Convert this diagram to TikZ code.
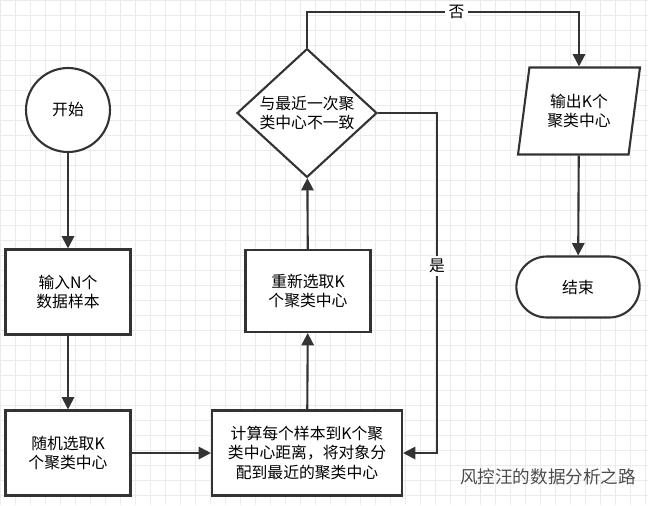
\documentclass[tikz,border=0pt]{standalone}
\usepackage{fontspec}
\setmainfont{Noto Sans CJK SC}
\usetikzlibrary{shapes.geometric, shapes.misc, arrows.meta, positioning}
\tikzset{
    box/.style={draw=black!80, line width=1.2pt, fill=white, minimum width=2.5cm, minimum height=1.7cm, align=center, font=\small},
    flow/.style={draw=black!80, line width=1.2pt, -{Triangle[length=7pt, width=7pt]}},
}
\begin{document}
\begin{tikzpicture}[x=0.02cm, y=-0.02cm]
        \useasboundingbox (0,0) rectangle (648,505);
        \draw[black!8, step=0.3cm] (0,0) grid (648,505);
        \node[box, circle, minimum size=1.68cm] (start) at (68,110) {开始};
        \node[box] (input) at (68,292) {输入N个\\数据样本};
        \node[box] (init) at (68,453) {随机选取K\\个聚类中心};
        \node[box, minimum width=3.8cm] (assign) at (307,453) {计算每个样本到K个聚\\类中心距离，将对象分\\配到最近的聚类中心};
        \node[box, minimum height=1.64cm] (update) at (308,291) {重新选取K\\个聚类中心};
        \node[box, diamond, minimum width=2.8cm, minimum height=2.46cm, inner sep=0pt] (check) at (307,113) {与最近一次聚\\类中心不一致};
        \node[box, trapezium, trapezium left angle=76, trapezium right angle=104, trapezium stretches body, minimum width=2.44cm, minimum height=1.74cm, inner xsep=0pt] (output) at (579,111) {输出K个\\聚类中心};
        \node[box, rounded rectangle, minimum width=2.7cm, minimum height=1.22cm] (stop) at (578,287) {结束};
        \coordinate (top) at (307,12);
        \coordinate (side) at (437,113);

        \draw[flow] (start) -- (input);
        \draw[flow] (input) -- (init);
        \draw[flow] (init) -- (assign);
        \draw[flow] (assign) -- (update);
        \draw[flow] (update) -- (check);
        \draw[flow] (check.east) -- (side) -- (side |- assign.east) node[pos=0.45, fill=white, inner sep=2pt, font=\small] {是} -- (assign.east);
        \draw[flow] (check.north) -- (top) -- node[fill=white, inner sep=2pt, font=\small, pos=0.55] {否} (top -| output.north) -- (output.north);
        \draw[flow] (output) -- (stop);
        \node[text=black!70, font=\normalsize] (mark) at (548,477) {风控汪的数据分析之路};
\end{tikzpicture}
\end{document}
